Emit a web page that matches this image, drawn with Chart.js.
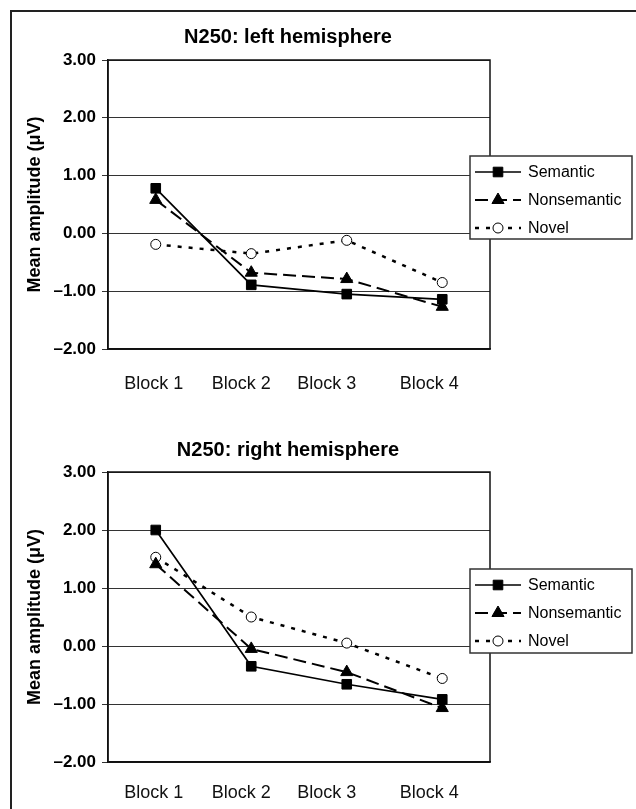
<!DOCTYPE html>
<html>
<head>
<meta charset="utf-8">
<script src="https://cdn.jsdelivr.net/npm/chart.js@4"></script>
<style>
  html, body { margin: 0; padding: 0; background: #fff; }
  body { width: 636px; height: 809px; position: relative; overflow: hidden; }
  .frame { position: absolute; left: 10px; top: 10px; width: 700px; height: 900px;
           border-left: 2.5px solid #222; border-top: 2.5px solid #222; box-sizing: border-box; }
  .panel { position: absolute; left: 0; width: 636px; }
  #top { top: 0; height: 400px; }
  #bottom { top: 400px; height: 409px; }
</style>
</head>
<body>
<div class="frame"></div>
<div class="panel" id="top"><canvas id="leftChart"></canvas></div>
<div class="panel" id="bottom"><canvas id="rightChart"></canvas></div>
<script>
// Categories and tick values
const blocks = ['Block 1', 'Block 2', 'Block 3', 'Block 4'];
const yTicks = [3, 2, 1, 0, -1, -2];
const seriesNames = ['Semantic', 'Nonsemantic', 'Novel'];

// N250 mean amplitudes (µV), left hemisphere
const leftSemantic    = [0.78, -0.89, -1.05, -1.14];
const leftNonsemantic = [0.58, -0.68, -0.79, -1.27];
const leftNovel       = [-0.19, -0.35, -0.12, -0.85];

// N250 mean amplitudes (µV), right hemisphere
const rightSemantic    = [2.00, -0.35, -0.66, -0.92];
const rightNonsemantic = [1.41, -0.05, -0.45, -1.07];
const rightNovel       = [1.53, 0.50, 0.05, -0.56];

const FONT = 'Liberation Sans, Arial, Helvetica, sans-serif';

function fmtTick(v) {
  const s = Math.abs(v).toFixed(2);
  return v < 0 ? '\u2013' + s : s;
}

function makeDatasets(sem, nonsem, novel) {
  return [
    { label: seriesNames[0], data: sem, borderColor: '#000', borderWidth: 1.7,
      pointStyle: 'rect', pointRadius: 6.8, pointBackgroundColor: '#000',
      pointBorderColor: '#000', pointBorderWidth: 1, tension: 0 },
    { label: seriesNames[1], data: nonsem, borderColor: '#000', borderWidth: 2,
      borderDash: [13, 6], pointStyle: 'triangle', pointRadius: 7,
      pointBackgroundColor: '#000', pointBorderColor: '#000', pointBorderWidth: 1, tension: 0 },
    { label: seriesNames[2], data: novel, borderColor: '#000', borderWidth: 2.5,
      borderDash: [4, 7], pointStyle: 'circle', pointRadius: 5,
      pointBackgroundColor: '#fff', pointBorderColor: '#000', pointBorderWidth: 1, tension: 0 }
  ];
}

// Frame of the plot, heading, category labels and the boxed key
const panelDecor = {
  id: 'panelDecor',
  afterDraw(chart, args, opts) {
    const ctx = chart.ctx;
    const a = chart.chartArea;
    const xs = chart.scales.x;

    ctx.save();
    // plot frame
    ctx.strokeStyle = '#111';
    ctx.lineWidth = 1.5;
    ctx.setLineDash([]);
    ctx.strokeRect(a.left, a.top, a.right - a.left, a.bottom - a.top);

    // category labels under the axis
    ctx.fillStyle = '#111';
    ctx.font = '18px ' + FONT;
    ctx.textAlign = 'center';
    ctx.textBaseline = 'alphabetic';
    blocks.forEach((b, i) => {
      ctx.fillText(b, xs.getPixelForValue(i) + opts.labelShift[i], a.bottom + opts.labelGap);
    });

    // heading
    ctx.fillStyle = '#000';
    ctx.font = 'bold 20px ' + FONT;
    ctx.textBaseline = 'middle';
    ctx.fillText(opts.title, a.left + 180, opts.titleY);

    // key
    const bx = a.right - 20, by = a.top + opts.keyTop, bw = 162, bh = opts.keyHeight;
    ctx.fillStyle = '#fff';
    ctx.fillRect(bx, by, bw, bh);
    ctx.strokeStyle = '#333';
    ctx.lineWidth = 1.5;
    ctx.strokeRect(bx, by, bw, bh);
    chart.data.datasets.forEach((ds, i) => {
      const y = by + 16 + i * 28;
      ctx.save();
      ctx.strokeStyle = ds.borderColor;
      ctx.lineWidth = ds.borderWidth;
      ctx.setLineDash(ds.borderDash || []);
      ctx.beginPath();
      ctx.moveTo(bx + 5, y);
      ctx.lineTo(bx + 51, y);
      ctx.stroke();
      ctx.restore();
      ctx.save();
      ctx.fillStyle = ds.pointBackgroundColor;
      ctx.strokeStyle = ds.pointBorderColor;
      ctx.lineWidth = ds.pointBorderWidth;
      ctx.setLineDash([]);
      Chart.helpers.drawPoint(ctx, { pointStyle: ds.pointStyle, radius: ds.pointRadius,
        rotation: 0, borderWidth: ds.pointBorderWidth }, bx + 28, y);
      ctx.restore();
      ctx.fillStyle = '#000';
      ctx.font = '16px ' + FONT;
      ctx.textAlign = 'left';
      ctx.textBaseline = 'middle';
      ctx.fillText(ds.label, bx + 58, y + 1);
    });
    ctx.restore();
  }
};

function makeChart(id, title, sem, nonsem, novel, geo) {
  return new Chart(document.getElementById(id), {
    type: 'line',
    data: { labels: blocks, datasets: makeDatasets(sem, nonsem, novel) },
    options: {
      responsive: true,
      maintainAspectRatio: false,
      devicePixelRatio: 1,
      animation: false,
      layout: { padding: { top: geo.plotTop, right: 146, left: 0, bottom: 0 } },
      plugins: {
        legend: { display: false },
        tooltip: { enabled: false },
        panelDecor: {
          title: title,
          titleY: geo.titleY,
          labelGap: geo.labelGap,
          labelShift: [-2, -10, -20, -13],
          keyTop: geo.keyTop,
          keyHeight: geo.keyHeight
        }
      },
      scales: {
        x: {
          type: 'category',
          offset: true,
          grid: { display: false },
          border: { display: true, color: '#111', width: 1.5 },
          ticks: { display: false },
          afterFit(s) { s.height = geo.xHeight; }
        },
        y: {
          min: -2, max: 3,
          afterBuildTicks(s) { s.ticks = yTicks.map(v => ({ value: v })); },
          grid: { color: '#333', lineWidth: 1, drawTicks: true, tickLength: 6 },
          border: { display: true, color: '#111', width: 1.5 },
          ticks: {
            padding: 6,
            color: '#000',
            font: { family: FONT, size: 17, weight: 'bold' },
            callback: (v) => fmtTick(v)
          },
          title: {
            display: true,
            text: 'Mean amplitude (\u03bcV)',
            color: '#000',
            font: { family: FONT, size: 18, weight: 'bold' },
            padding: { top: 24, bottom: 0 }
          },
          afterFit(s) { s.width = 108; }
        }
      }
    },
    plugins: [panelDecor]
  });
}

makeChart('leftChart', 'N250: left hemisphere', leftSemantic, leftNonsemantic, leftNovel,
  { plotTop: 60, xHeight: 51, titleY: 37, labelGap: 40, keyTop: 96, keyHeight: 83 });
makeChart('rightChart', 'N250: right hemisphere', rightSemantic, rightNonsemantic, rightNovel,
  { plotTop: 72, xHeight: 47, titleY: 50, labelGap: 36, keyTop: 97, keyHeight: 84 });
</script>
</body>
</html>
